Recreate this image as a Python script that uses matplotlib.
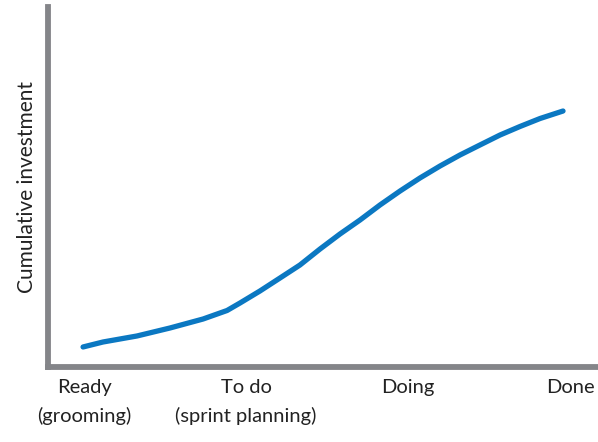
import matplotlib
matplotlib.use("Agg")
import matplotlib.pyplot as plt

categories = ["Ready\n(grooming)", "To do\n(sprint planning)", "Doing", "Done"]
stage_x = [-0.006, 0.117, 0.327, 0.531, 0.735, 0.883, 0.963, 1.086, 1.210, 1.333,
           1.457, 1.580, 1.704, 1.827, 1.951, 2.074, 2.198, 2.321, 2.444, 2.568,
           2.691, 2.815, 2.957]
investment = [5.69, 7.07, 8.74, 10.96, 13.45, 15.81, 17.89, 21.22, 24.83, 28.43,
              32.87, 37.03, 40.92, 45.08, 48.96, 52.57, 55.90, 58.95, 61.72, 64.49,
              66.85, 69.07, 71.15]
y_label = "Cumulative investment"

plt.rcParams['font.family'] = ['Lato', 'DejaVu Sans']

fig = plt.figure(figsize=(5.98, 4.42), dpi=100)
ax = fig.add_axes([0.08, 0.1686, 0.92, 0.8155])

ax.plot(stage_x, investment, color="#0b78c2", lw=3.8, solid_capstyle="round",
        solid_joinstyle="round")

ax.set_xlim(-0.2235, 3.173)
ax.set_ylim(0, 100)
ax.set_xticks(range(len(categories)))
ax.set_xticklabels(categories, fontsize=14.5, color="#222222", linespacing=1.75)
ax.set_yticks([])
ax.tick_params(axis="x", length=0, pad=8)

for side in ["top", "right"]:
    ax.spines[side].set_visible(False)
for side in ["left", "bottom"]:
    ax.spines[side].set_color("#848589")
    ax.spines[side].set_linewidth(4.2)
    ax.spines[side].set_capstyle("projecting")

ax.set_ylabel(y_label, fontsize=15, color="#222222", labelpad=8)

fig.savefig("out.png", dpi=100)
